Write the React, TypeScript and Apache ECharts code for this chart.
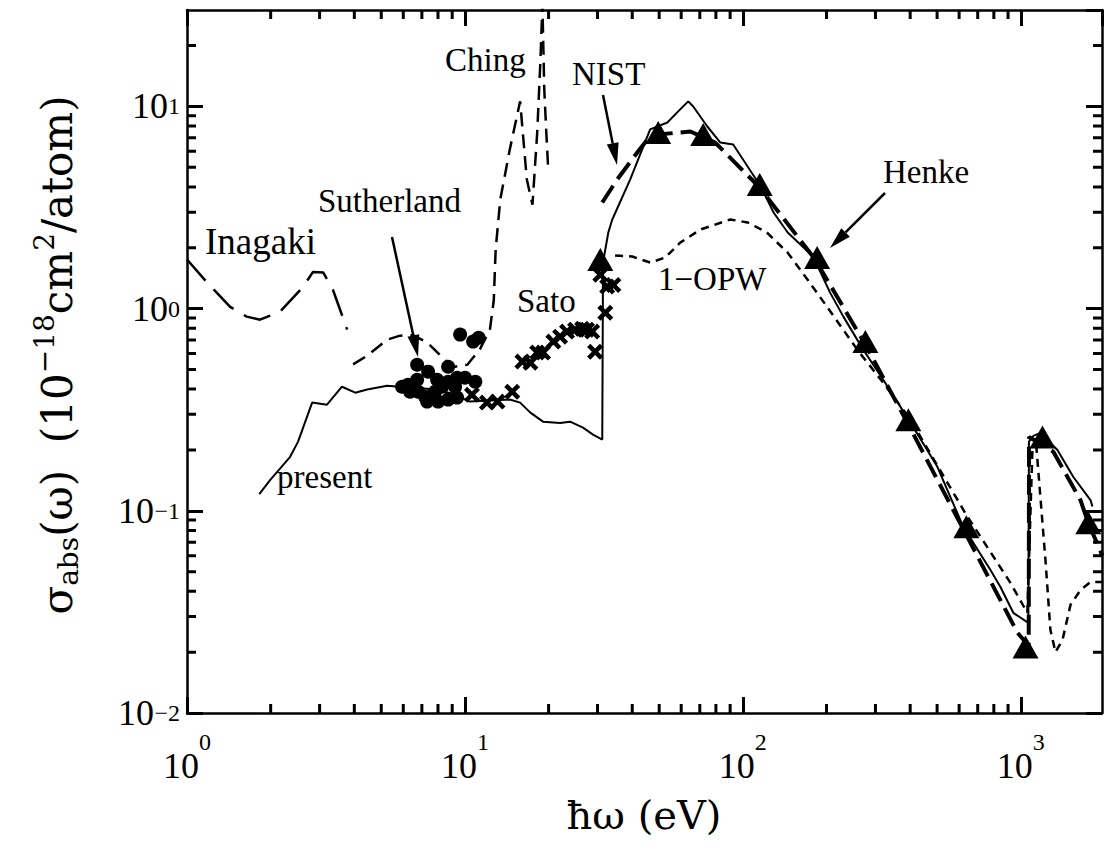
import React, { useEffect, useRef } from 'react';
import * as echarts from 'echarts';

// ---- axis ranges ----
const X_MIN = 1;
const X_MAX = 1960;
const Y_MIN = 0.01;
const Y_MAX = 30;

// ---- minor tick values ----
const xMinorTicks = [2, 3, 4, 5, 6, 7, 8, 9, 20, 30, 40, 50, 60, 70, 80, 90, 200, 300, 400, 500, 600, 700, 800, 900];
const yMinorTicks = [0.02, 0.03, 0.04, 0.05, 0.06, 0.07, 0.08, 0.09, 0.2, 0.3, 0.4, 0.5, 0.6, 0.7, 0.8, 0.9, 2, 3, 4, 5, 6, 7, 8, 9, 20];

// ---- series data [photon energy eV, sigma] ----
const presentData = [
  [1.82, 0.121], [1.99, 0.142], [2.35, 0.185], [2.51, 0.22], [2.82, 0.343], [3.19, 0.335],
  [3.61, 0.411], [4.03, 0.384], [4.45, 0.398], [5.25, 0.416], [5.94, 0.41], [7.5, 0.4],
  [9.0, 0.38], [10.4, 0.347], [14.5, 0.355], [15.8, 0.343], [17.2, 0.306], [19.1, 0.276],
  [22.0, 0.272], [23.9, 0.276], [26.6, 0.258], [28.9, 0.238], [31.2, 0.225], [31.4, 1.69],
  [32.8, 2.38], [33.9, 2.76], [39.3, 4.35], [46.4, 7.7], [53.5, 8.33], [59.5, 9.67],
  [63.6, 10.6], [66.3, 10.0], [74.5, 7.96], [83, 6.63], [92.3, 6.49], [104, 5.05], [116, 4.02],
  [129, 2.99], [145, 2.38], [179, 1.81], [206, 1.2], [230, 0.913], [271, 0.627], [320, 0.445],
  [401, 0.273], [501, 0.165], [621, 0.0833], [778, 0.051], [845, 0.042], [940, 0.0313],
  [1065, 0.0279], [1070, 0.22], [1110, 0.235], [1177, 0.243], [1355, 0.2], [1546, 0.147],
  [1782, 0.113], [1811, 0.105],
];

const nistData = [
  [31.2, 3.35], [35.3, 4.35], [41.7, 5.92], [45.3, 6.86], [49.6, 7.27], [64.7, 7.52],
  [79.5, 6.63], [115, 3.97], [182, 1.75], [276, 0.664], [394, 0.267], [637, 0.076],
  [972, 0.025], [1068, 0.0215], [1071, 0.232], [1310, 0.196], [1640, 0.113], [1750, 0.087],
  [1967, 0.06],
];

const opwData = [
  [34.7, 1.83], [40, 1.81], [46.4, 1.69], [52.6, 1.79], [59.5, 2.12], [70.3, 2.46],
  [90.1, 2.76], [104, 2.67], [122, 2.38], [145, 1.89], [171, 1.39], [201, 1.02], [258, 0.627],
  [320, 0.43], [401, 0.282], [637, 0.0955], [918, 0.044], [1056, 0.0313], [1101, 0.2],
  [1137, 0.21], [1227, 0.057], [1278, 0.0258], [1333, 0.02], [1413, 0.023], [1510, 0.0343],
  [1640, 0.0406], [1782, 0.0445], [1967, 0.0445],
];

const chingData = [
  [3.96, 0.53], [4.45, 0.585], [5.25, 0.702], [5.84, 0.735], [6.5, 0.74], [7.33, 0.679],
  [8.6, 0.547], [9.2, 0.516], [10.2, 0.528], [11.3, 0.627], [12.3, 0.787], [12.7, 1.1],
  [12.9, 1.96], [13.4, 3.46], [14.5, 6.12], [15.8, 10.6], [16.7, 4.35], [17.5, 3.27],
  [18.2, 7.43], [18.7, 17.1], [19.0, 32], [19.3, 12.1], [19.6, 7.7], [19.9, 5.16],
];

const inagakiData = [
  [1.0, 1.75], [1.18, 1.35], [1.43, 1.02], [1.64, 0.913], [1.83, 0.882], [2.16, 0.966],
  [2.62, 1.285], [2.84, 1.52], [3.09, 1.51], [3.35, 1.24], [3.77, 0.787],
];

const henkeData = [
  [30.7, 1.75], [49.6, 7.43], [72, 7.27], [115, 4.11], [185, 1.79], [276, 0.687],
  [394, 0.282], [637, 0.0833], [1040, 0.0212], [1197, 0.232], [1750, 0.0872],
];

const sutherlandData = [
  [9.61, 0.744], [10.7, 0.687], [11.2, 0.718], [6.73, 0.528], [7.37, 0.488], [5.94, 0.411],
  [6.73, 0.445], [8.7, 0.516], [6.35, 0.388], [6.79, 0.388], [7.19, 0.367], [7.81, 0.388],
  [8.28, 0.411], [8.7, 0.435], [9.37, 0.455], [10.0, 0.455], [10.9, 0.435], [7.31, 0.347],
  [8.01, 0.347], [8.7, 0.355], [9.37, 0.363], [7.94, 0.445], [9.22, 0.411], [6.24, 0.42],
];

const satoData = [
  [10.6, 0.375], [12.0, 0.343], [13.1, 0.347], [14.8, 0.388], [16.1, 0.547], [17.2, 0.54],
  [18.2, 0.606], [19.1, 0.606], [20.8, 0.687], [22.0, 0.727], [23.3, 0.77], [24.9, 0.787],
  [26.4, 0.796], [27.5, 0.787], [28.7, 0.77], [29.4, 0.612], [32.0, 0.955], [32.5, 1.285],
  [34.2, 1.31], [30.7, 1.47],
];

// ---- annotations ----
const annotations = [
  { text: 'Ching', x: 445, y: 60, size: 33 },
  { text: 'NIST', x: 572, y: 74, size: 33 },
  { text: 'Sutherland', x: 318, y: 201, size: 33 },
  { text: 'Inagaki', x: 205, y: 241, size: 37 },
  { text: 'Sato', x: 517, y: 301, size: 33 },
  { text: '1\u2212OPW', x: 658, y: 279, size: 33 },
  { text: 'Henke', x: 883, y: 172, size: 33 },
  { text: 'present', x: 277, y: 477, size: 33 },
];

const arrows = [
  [392, 237, 418, 357],
  [603, 95, 617, 165],
  [885, 193, 830, 248],
];

// y title pieces: [text, size, vertical offset]
const yTitlePieces: [string, number, number][] = [
  ['\u03c3', 42, 0], ['abs', 28, 11], ['(\u03c9)  (10', 42, 0], ['\u221218', 28, -13],
  ['cm', 42, 0], ['2', 28, -13], ['/atom)', 42, 0],
];

const FONT = 'Liberation Serif';
const BIG_FONT = 'DejaVu Serif';
const CROSS = 'path://M0,2 L2,0 L5,3 L8,0 L10,2 L7,5 L10,8 L8,10 L5,7 L2,10 L0,8 L3,5 Z';
const GRID = { left: 187, top: 10, width: 915, height: 703 };

function exponentOf(v: number): number | null {
  const e = Math.log10(v);
  const r = Math.round(e);
  return Math.abs(e - r) < 1e-6 ? r : null;
}
const expText = (r: number) => (r < 0 ? '\u2212' + String(-r) : String(r));

function arrowElems(x1: number, y1: number, x2: number, y2: number) {
  const dx = x2 - x1;
  const dy = y2 - y1;
  const len = Math.hypot(dx, dy);
  const ux = dx / len;
  const uy = dy / len;
  const L = 22;
  const W = 12;
  const bx = x2 - ux * L;
  const by = y2 - uy * L;
  const nx = -uy;
  const ny = ux;
  return [
    { type: 'line', silent: true, shape: { x1, y1, x2: bx, y2: by }, style: { stroke: '#000', lineWidth: 2.5 } },
    {
      type: 'polygon', silent: true,
      shape: { points: [[x2, y2], [bx + (nx * W) / 2, by + (ny * W) / 2], [bx - (nx * W) / 2, by - (ny * W) / 2]] },
      style: { fill: '#000' },
    },
  ];
}

// minor tick segments in data units (tick length converted from pixels via the axis span)
function tickSegments(side: 'bottom' | 'top' | 'left' | 'right', len: number) {
  const decX = Math.log10(X_MAX) - Math.log10(X_MIN);
  const decY = Math.log10(Y_MAX) - Math.log10(Y_MIN);
  const fx = Math.pow(10, (len * decX) / GRID.width);
  const fy = Math.pow(10, (len * decY) / GRID.height);
  const segs: any[] = [];
  if (side === 'bottom' || side === 'top') {
    xMinorTicks.forEach((v) => {
      if (side === 'bottom') segs.push([v, Y_MIN], [v, Y_MIN * fy]);
      else segs.push([v, Y_MAX], [v, Y_MAX / fy]);
      segs.push(['-', '-']);
    });
  } else {
    yMinorTicks.forEach((v) => {
      if (side === 'left') segs.push([X_MIN, v], [X_MIN * fx, v]);
      else segs.push([X_MAX, v], [X_MAX / fx, v]);
      segs.push(['-', '-']);
    });
  }
  return segs;
}

function measure(text: string, size: number, family: string): number {
  const c = document.createElement('canvas').getContext('2d');
  if (!c) return text.length * size * 0.55;
  c.font = size + 'px "' + family + '"';
  return c.measureText(text).width;
}

export default function App() {
  const ref = useRef<HTMLDivElement>(null);
  useEffect(() => {
    if (!ref.current) return;
    const chart = echarts.init(ref.current, undefined, { renderer: 'svg' });

    const axisLine = { show: true, lineStyle: { color: '#000', width: 2.5 } };
    const majorTick = { show: true, inside: true, length: 16, lineStyle: { color: '#000', width: 3 } };
    const noLine = { show: false };
    const noTick = { show: false };

    const graphics: any[] = [];
    annotations.forEach((a) => {
      graphics.push({
        type: 'text', silent: true, x: a.x, y: a.y,
        style: { text: a.text, fontFamily: FONT, fontSize: a.size, fill: '#000', align: 'left', verticalAlign: 'middle' },
      });
    });
    arrows.forEach((a) => graphics.push(...arrowElems(a[0], a[1], a[2], a[3])));
    graphics.push({
      type: 'text', silent: true, x: 644, y: 815,
      style: { text: '\u0127\u03c9 (eV)', fontFamily: BIG_FONT, fontSize: 40, fill: '#000', align: 'center', verticalAlign: 'middle' },
    });
    const widths = yTitlePieces.map((p) => measure(p[0], p[1], BIG_FONT));
    const total = widths.reduce((s, w) => s + w, 0);
    let cx = -total / 2;
    const titleChildren = yTitlePieces.map((p, i) => {
      const el = {
        type: 'text', silent: true, x: cx, y: p[2],
        style: { text: p[0], fontFamily: BIG_FONT, fontSize: p[1], fill: '#000', align: 'left', verticalAlign: 'middle' },
      };
      cx += widths[i];
      return el;
    });
    graphics.push({
      type: 'group', silent: true, x: 57, y: 355, rotation: Math.PI / 2,
      children: titleChildren,
    });

    const logX = { type: 'log', logBase: 10, min: X_MIN, max: X_MAX };
    const logY = { type: 'log', logBase: 10, min: Y_MIN, max: Y_MAX };
    const hidden = { splitLine: { show: false }, minorTick: { show: false } };

    const option: any = {
      animation: false,
      grid: { ...GRID },
      xAxis: [
        {
          ...logX, ...hidden, position: 'bottom', axisLine, axisTick: majorTick,
          axisLabel: {
            formatter: (v: number) => (exponentOf(v) === null ? '' : '10'),
            fontFamily: FONT, fontSize: 36, lineHeight: 36, color: '#000', margin: 35,
            align: 'center', padding: [0, 12, 0, 0], showMaxLabel: false,
          },
        },
        { ...logX, ...hidden, position: 'top', axisLine, axisTick: majorTick, axisLabel: { show: false } },
        {
          ...logX, ...hidden, position: 'bottom', axisLine: noLine, axisTick: noTick,
          axisLabel: {
            formatter: (v: number) => { const r = exponentOf(v); return r === null ? '' : expText(r); },
            fontFamily: FONT, fontSize: 24, lineHeight: 24, color: '#000', margin: 17,
            align: 'center', padding: [0, 0, 0, 36], showMaxLabel: false,
          },
        },
      ],
      yAxis: [
        {
          ...logY, ...hidden, position: 'left', axisLine, axisTick: majorTick,
          axisLabel: {
            formatter: (v: number) => { const r = exponentOf(v); return r === null || r < 0 ? '' : '10'; },
            fontFamily: FONT, fontSize: 36, lineHeight: 36, color: '#000', margin: 19,
            padding: [10, 0, 0, 0], showMaxLabel: false,
          },
        },
        { ...logY, ...hidden, position: 'right', axisLine, axisTick: majorTick, axisLabel: { show: false } },
        {
          ...logY, ...hidden, position: 'left', axisLine: noLine, axisTick: noTick,
          axisLabel: {
            formatter: (v: number) => { const r = exponentOf(v); return r === null || r >= 0 ? '' : '10'; },
            fontFamily: FONT, fontSize: 36, lineHeight: 36, color: '#000', margin: 33,
            padding: [10, 0, 0, 0], showMaxLabel: false,
          },
        },
        {
          ...logY, ...hidden, position: 'left', axisLine: noLine, axisTick: noTick,
          axisLabel: {
            formatter: (v: number) => { const r = exponentOf(v); return r === null ? '' : expText(r); },
            fontFamily: FONT, fontSize: 24, lineHeight: 24, color: '#000', margin: 7,
            padding: [0, 0, 30, 0], showMaxLabel: false,
          },
        },
      ],
      graphic: graphics,
      series: [
        { name: 'minorBottom', type: 'line', data: tickSegments('bottom', 9), symbol: 'none', clip: false, lineStyle: { color: '#000', width: 3 } },
        { name: 'minorTop', type: 'line', data: tickSegments('top', 9), symbol: 'none', clip: false, lineStyle: { color: '#000', width: 3 } },
        { name: 'minorLeft', type: 'line', data: tickSegments('left', 9), symbol: 'none', clip: false, lineStyle: { color: '#000', width: 3 } },
        { name: 'minorRight', type: 'line', data: tickSegments('right', 9), symbol: 'none', clip: false, lineStyle: { color: '#000', width: 3 } },
        {
          name: 'Inagaki', type: 'line', data: inagakiData, symbol: 'none', clip: true,
          lineStyle: { color: '#000', width: 2.5, type: [28, 12] },
        },
        {
          name: 'Ching', type: 'line', data: chingData, symbol: 'none', clip: true,
          lineStyle: { color: '#000', width: 2.5, type: [14, 8] },
        },
        {
          name: '1-OPW', type: 'line', data: opwData, symbol: 'none', clip: true,
          lineStyle: { color: '#000', width: 2.5, type: [8, 6] },
        },
        {
          name: 'NIST', type: 'line', data: nistData, symbol: 'none', clip: true,
          lineStyle: { color: '#000', width: 4, type: [20, 8] },
        },
        {
          name: 'present', type: 'line', data: presentData, symbol: 'none', clip: true,
          lineStyle: { color: '#000', width: 2 },
        },
        {
          name: 'Sutherland', type: 'scatter', data: sutherlandData, symbol: 'circle', symbolSize: 14,
          itemStyle: { color: '#000', opacity: 1 },
        },
        {
          name: 'Sato', type: 'scatter', data: satoData, symbol: CROSS, symbolSize: 16,
          itemStyle: { color: '#000', opacity: 1 },
        },
        {
          name: 'Henke', type: 'scatter', data: henkeData, symbol: 'triangle', symbolSize: [26, 23],
          itemStyle: { color: '#000', opacity: 1 }, z: 4,
        },
      ],
    };
    chart.setOption(option);
    return () => chart.dispose();
  }, []);

  return (
    <div
      ref={ref}
      style={{ position: 'fixed', left: 0, top: 0, width: 1104, height: 857, background: '#fff' }}
    />
  );
}
